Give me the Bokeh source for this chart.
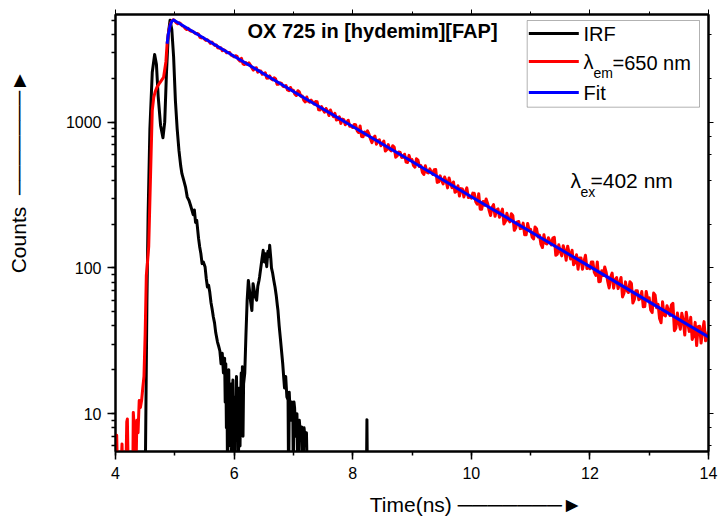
import math
from bokeh.plotting import figure
from bokeh.models import (LinearAxis, LogAxis, SingleIntervalTicker, LogTicker,
                          Label, Arrow, BoxAnnotation, Range1d, ColumnDataSource,
                          CustomJSTickFormatter, PrintfTickFormatter)
from bokeh.embed import file_html
from bokeh.resources import INLINE

FONT = "Liberation Sans"

# ---------------- data ----------------
irf_t = [4.50, 4.53, 4.55, 4.58, 4.62, 4.66, 4.69, 4.72, 4.76, 4.80, 4.83, 4.86, 4.89, 4.92,
         4.95, 4.98, 5.01, 5.04, 5.07, 5.10, 5.12, 5.15, 5.18, 5.21, 5.24, 5.27, 5.29, 5.31,
         5.33, 5.35, 5.37, 5.40, 5.42, 5.44, 5.46, 5.48, 5.51, 5.53, 5.55, 5.57, 5.59, 5.61,
         5.63, 5.65, 5.67, 5.69, 5.72, 5.74, 5.76, 5.78, 5.80, 5.82, 5.84, 5.85, 5.86, 5.87,
         5.88, 5.89, 5.90, 5.91, 5.92, 5.93, 5.94, 5.95, 5.96, 5.97, 5.98, 5.99, 6.00, 6.01,
         6.02, 6.03, 6.04, 6.05, 6.06, 6.07, 6.08, 6.09, 6.10, 6.11, 6.12, 6.13, 6.14, 6.15,
         6.16, 6.18, 6.20, 6.22, 6.24, 6.26, 6.28, 6.30, 6.32, 6.34, 6.36, 6.38, 6.40, 6.42,
         6.43, 6.45, 6.47, 6.49, 6.51, 6.53, 6.55, 6.57, 6.59, 6.60, 6.62, 6.63, 6.65, 6.67,
         6.69, 6.71, 6.73, 6.74, 6.76, 6.78, 6.80, 6.82, 6.84, 6.85, 6.87, 6.89, 6.91, 6.92,
         6.93, 6.95, 6.97, 6.99, 7.00, 7.01, 7.02, 7.04, 7.06, 7.08, 7.10, 7.12, 7.14, 7.16,
         7.18, 7.20, 7.22, 7.24, 8.23, 8.24, 8.25]
irf_counts = [3, 60, 233, 900, 2200, 2910, 2500, 1500, 950, 782, 1000, 2200, 4000, 5000,
              4300, 2800, 1410, 900, 640, 500, 443, 400, 360, 306, 290, 265, 248, 232,
              250, 205, 212, 160, 139, 125, 107, 110, 102, 85, 74, 76, 68, 58,
              52, 46, 42, 36, 31, 29, 27, 22, 26, 19, 24, 12, 22, 8,
              15, 3, 12, 20, 9, 14, 6, 16, 3, 11, 17, 7, 12, 4,
              13, 8, 18, 10, 14, 3, 9, 15, 6, 13, 19, 9, 21, 7,
              16, 19, 35, 60, 82, 70, 58, 51, 78, 70, 63, 60, 75, 82,
              87, 100, 115, 132, 110, 125, 102, 130, 120, 143, 115, 100, 92, 82,
              74, 65, 55, 51, 40, 33, 27, 22, 17, 15, 18, 13, 12.4, 3,
              14, 9, 12, 11.2, 3, 12, 11, 7, 10, 3, 9, 7, 8.1, 3,
              8, 6.5, 7.4, 3, 3, 9.1, 3]

em_rise_t = [4.00, 4.02, 4.04, 4.08, 4.11, 4.13, 4.17, 4.19, 4.20, 4.22, 4.29, 4.30, 4.32,
             4.34, 4.36, 4.38, 4.40, 4.42, 4.44, 4.46, 4.48, 4.50, 4.52, 4.54, 4.56, 4.58,
             4.60, 4.62, 4.645, 4.67, 4.70, 4.75, 4.81, 4.85, 4.87, 4.90, 4.93, 4.96, 4.98]
em_rise_counts = [6.5, 7.1, 3, 3, 6.2, 3, 3, 8.8, 9.2, 3, 3, 10.2, 7.5,
                  3, 9.0, 7.4, 12.3, 11, 12.3, 15, 18, 35, 89, 110, 140, 290,
                  600, 1200, 1480, 1620, 1740, 1870, 2030, 2600, 3440, 4300, 4800, 5000, 5050]

# decay part, 0.025 ns channels from 5.000 to 14.000 ns:
# values on the whole 0.05 grid (5.00, 5.05, ...) ...
em_decay_start = 5.00
em_channel = 0.05
em_decay_counts = [
    4952, 4731, 4732, 4548, 4327, 4260, 4211, 4047, 4023, 3783, 3717, 3674, 3475, 3442, 3388, 3218, 3098, 3099, 3003, 2886,
    2805, 2828, 2622, 2509, 2562, 2551, 2357, 2349, 2203, 2248, 2153, 2003, 2078, 1949, 1980, 1822, 1845, 1752, 1663, 1731,
    1654, 1524, 1611, 1514, 1376, 1390, 1417, 1331, 1380, 1214, 1217, 1241, 1110, 1141, 1149, 1041, 981, 1039, 999, 937,
    919, 959, 849, 798, 856, 872, 766, 782, 706, 757, 714, 634, 702, 636, 675, 587, 619, 574, 532, 592,
    553, 491, 549, 504, 438, 454, 478, 438, 473, 389, 399, 420, 354, 379, 389, 336, 311, 348, 333, 304,
    301, 325, 274, 253, 286, 297, 248, 260, 226, 254, 237, 200, 237, 207, 229, 188, 208, 187, 169, 202,
    184, 158, 186, 168, 138, 148, 161, 144, 162, 124, 130, 142, 113, 126, 132, 109, 98, 117, 111, 99,
    98.7, 110, 88.8, 80.4, 95.7, 101.6, 80.9, 86.7, 72.6, 85.9, 78.5, 63.2, 80.2, 67.8, 78.1, 60.8, 69.7, 61.7, 54.1, 69,
    62.4, 49.4, 65.0, 56.2, 42.0, 47.5, 55.1, 47.1, 57.2, 38.6, 42.4, 48.9, 34.6, 41.7, 45.8, 34.4, 29.3, 39.8, 37.2, 31.6,
    37]
# ... and the in-between channels (5.025, 5.075, ...)
em_mid_counts = [
    4806, 4807, 4584, 4405, 4398, 4202, 4128, 4063, 3820, 3814, 3637, 3587, 3546, 3361, 3242, 3237, 3137, 2990, 3009, 2858,
    2856, 2680, 2745, 2485, 2487, 2467, 2277, 2362, 2253, 2131, 2183, 2008, 1985, 2016, 1817, 1863, 1762, 1784, 1647, 1655,
    1555, 1643, 1507, 1413, 1487, 1371, 1373, 1384, 1215, 1280, 1171, 1189, 1212, 1091, 1036, 1090, 1049, 959, 1031, 936,
    965, 874, 942, 794, 818, 828, 724, 802, 750, 689, 743, 647, 650, 689, 575, 624, 573, 603, 529, 548,
    504, 561, 496, 453, 502, 448, 458, 471, 386, 428, 377, 395, 414, 355, 330, 366, 350, 307, 354, 307,
    326, 285, 323, 253, 269, 277, 229, 272, 250, 223, 253, 208, 213, 235, 181, 207, 186, 203, 169, 182,
    163, 191, 163, 145, 169, 146, 152, 160, 122, 144, 121, 131, 141, 115, 105, 123, 117, 98, 122, 101,
    110, 93.1, 110, 80.7, 88.6, 93.2, 72.9, 92.1, 83.2, 72.1, 86, 67.1, 69.9, 80.3, 57.4, 69.6, 60.5, 68.8, 54.3, 60.5,
    51.4, 67.2, 53.3, 44.9, 58.5, 46.9, 51.1, 55.9, 37.1, 49, 38, 43.5, 49.6, 36.7, 32.3, 42.3, 39.5, 30.5, 42.8, 32.6]

fit_t = [4.87, 4.89, 4.92, 4.95, 4.98, 5.00, 6, 7, 8, 9, 10, 11, 12, 13, 14]
fit_counts = [3450, 4000, 4600, 4930, 5020, 4970, 2830, 1625, 934, 537, 308, 177, 102, 58.5, 33.6]

# ---------------- build sources ----------------
em_t = list(em_rise_t)
em_counts = list(em_rise_counts)
for i, c in enumerate(em_decay_counts):
    em_t.append(round(em_decay_start + i * em_channel, 3))
    em_counts.append(c)
    if i < len(em_mid_counts):
        em_t.append(round(em_decay_start + (i + 0.5) * em_channel, 3))
        em_counts.append(em_mid_counts[i])

irf_src = ColumnDataSource(dict(t=irf_t, c=irf_counts))
em_src = ColumnDataSource(dict(t=em_t, c=em_counts))
fit_src = ColumnDataSource(dict(t=fit_t, c=fit_counts))

W, H = 718, 519
FL, FR, FT, FB = 115, 708, 14, 451   # frame edges in canvas pixels
p = figure(width=W, height=H, y_axis_type="log",
           x_range=Range1d(4, 14), y_range=Range1d(5.5, 5480),
           output_backend="svg", toolbar_location=None,
           min_border_left=FL, min_border_right=W - FR,
           min_border_top=FT, min_border_bottom=H - FB)
p.background_fill_color = "white"
p.border_fill_color = "white"
p.outline_line_color = "black"
p.outline_line_width = 2
p.xgrid.visible = False
p.ygrid.visible = False

p.xaxis.ticker = SingleIntervalTicker(interval=2, num_minor_ticks=2)
p.yaxis.formatter = PrintfTickFormatter(format="%d")
for ax in (p.xaxis[0], p.yaxis[0]):
    ax.axis_line_width = 2
    ax.axis_line_color = "black"
    ax.major_tick_line_color = "black"
    ax.minor_tick_line_color = "black"
    ax.major_tick_line_width = 1.5
    ax.minor_tick_line_width = 1.5
    ax.major_tick_out = 8
    ax.major_tick_in = 0
    ax.minor_tick_out = 4
    ax.minor_tick_in = 0
    ax.major_label_text_font = FONT
    ax.major_label_text_font_size = "16px"
    ax.major_label_text_color = "black"
    ax.axis_label_text_font = FONT
    ax.axis_label_text_font_size = "21px"
    ax.axis_label_text_font_style = "normal"
    ax.axis_label_text_color = "black"
p.xaxis.major_label_standoff = 7
p.yaxis.major_label_standoff = 6

NB = "\u00a0"
ARROW = "\u2500" * 7 + "\u25ba"
p.xaxis.axis_label = NB * 22 + "Time(ns)" + NB + ARROW
p.xaxis.axis_label_standoff = 11
p.yaxis.axis_label = NB * 21 + "Counts" + NB * 2 + ARROW
p.yaxis.axis_label_standoff = 33

# mirror axes (ticks only, empty labels)
top_ax = LinearAxis(ticker=SingleIntervalTicker(interval=2, num_minor_ticks=2),
                    formatter=CustomJSTickFormatter(code="return ''"))
right_ax = LogAxis(ticker=LogTicker(), formatter=CustomJSTickFormatter(code="return ''"))
for ax in (top_ax, right_ax):
    ax.axis_line_width = 2
    ax.axis_line_color = "black"
    ax.major_tick_line_color = "black"
    ax.minor_tick_line_color = "black"
    ax.major_tick_out = 5
    ax.major_tick_in = 0
    ax.minor_tick_out = 3
    ax.minor_tick_in = 0
    ax.major_label_text_font_size = "1px"
    ax.major_label_standoff = 0
p.add_layout(top_ax, "above")
p.add_layout(right_ax, "right")

# ---------------- curves ----------------
p.line("t", "c", source=irf_src, line_color="black", line_width=3, line_join="round")
p.line("t", "c", source=em_src, line_color="#ff0000", line_width=3, line_join="round")
p.line("t", "c", source=fit_src, line_color="#0000ff", line_width=3, line_join="round")

S = dict(x_units="screen", y_units="screen")

# title (inside the frame)
p.add_layout(Label(x=132, y=421, text="OX 725 in [hydemim][FAP]", text_font=FONT,
                   text_font_size="20px", text_font_style="bold", text_baseline="middle",
                   text_color="black", **S))

# legend
p.add_layout(BoxAnnotation(left=411.7, right=584, top=431, bottom=344.3,
                           left_units="screen", right_units="screen",
                           top_units="screen", bottom_units="screen",
                           fill_color="white", fill_alpha=1.0,
                           line_color="black", line_width=1))
for yy, col in ((418, "black"), (390, "#ff0000"), (359, "#0000ff")):
    p.add_layout(Arrow(start=None, end=None, x_start=413.3, y_start=yy, x_end=463.3, y_end=yy,
                       start_units="screen", end_units="screen",
                       line_color=col, line_width=3))
p.add_layout(Label(x=468, y=418, text="IRF", text_font=FONT, text_font_size="20px",
                   text_baseline="middle", text_color="black", **S))
p.add_layout(Label(x=468, y=390, text="λ", text_font=FONT, text_font_size="20px",
                   text_baseline="middle", text_color="black", **S))
p.add_layout(Label(x=478, y=379, text="em", text_font=FONT, text_font_size="14px",
                   text_baseline="middle", text_color="black", **S))
p.add_layout(Label(x=497, y=389, text="=650 nm", text_font=FONT, text_font_size="20px",
                   text_baseline="middle", text_color="black", **S))
p.add_layout(Label(x=468, y=358.5, text="Fit", text_font=FONT, text_font_size="20px",
                   text_baseline="middle", text_color="black", **S))

# excitation annotation
p.add_layout(Label(x=455, y=271.5, text="λ", text_font=FONT, text_font_size="21px",
                   text_baseline="middle", text_color="black", **S))
p.add_layout(Label(x=465, y=259.5, text="ex", text_font=FONT, text_font_size="14px",
                   text_baseline="middle", text_color="black", **S))
p.add_layout(Label(x=475, y=271, text="=402 nm", text_font=FONT, text_font_size="21px",
                   text_baseline="middle", text_color="black", **S))

open("out.html", "w").write(file_html(p, INLINE))
